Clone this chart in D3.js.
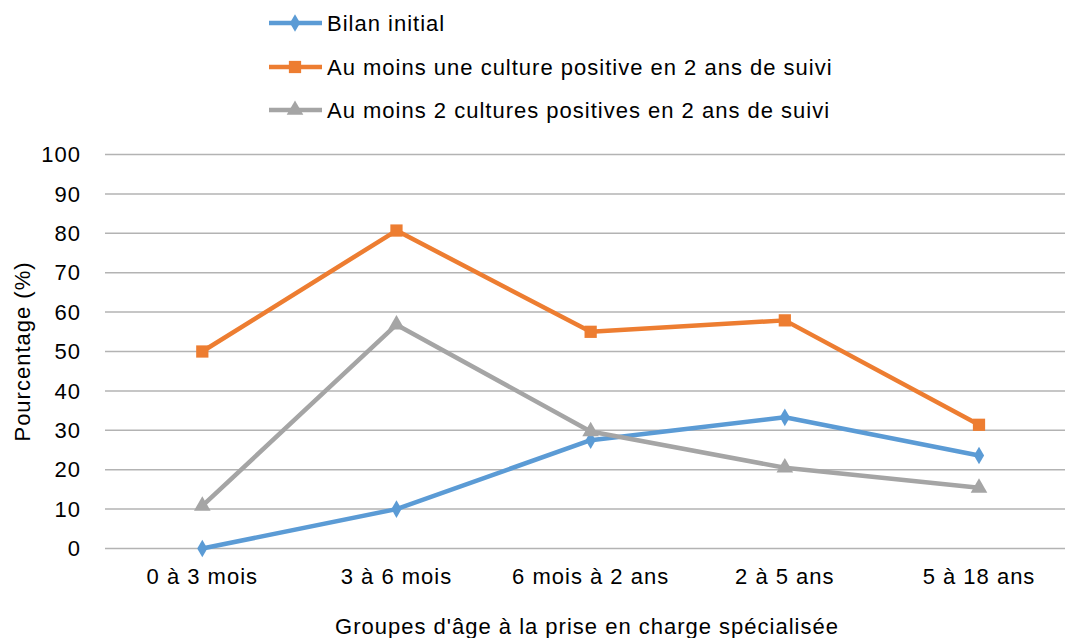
<!DOCTYPE html>
<html>
<head>
<meta charset="utf-8">
<script src="https://cdn.jsdelivr.net/npm/d3@7"></script>
<style>
  body { margin: 0; background: #fff; }
  text { font-family: "Liberation Sans", Arial, Helvetica, sans-serif; fill: #000; letter-spacing: 1px; }
</style>
</head>
<body>
<svg id="chart" width="1065" height="638"></svg>
<script>
const categories = ["0 à 3 mois", "3 à 6 mois", "6 mois à 2 ans", "2 à 5 ans", "5 à 18 ans"];
const bilanInitial = [0, 10, 27.5, 33.3, 23.6];
const uneCulture = [50, 80.7, 55, 57.9, 31.4];
const deuxCultures = [10.8, 56.8, 29.7, 20.5, 15.4];
const yTicks = [0, 10, 20, 30, 40, 50, 60, 70, 80, 90, 100];
const seriesNames = [
  "Bilan initial",
  "Au moins une culture positive en 2 ans de suivi",
  "Au moins 2 cultures positives en 2 ans de suivi"
];

const width = 1065, height = 638;
const margin = {top: 154.5, right: 0, bottom: 89.5, left: 105};
const fontSize = 22;

const svg = d3.select("#chart");

const x = d3.scalePoint()
  .domain(categories)
  .range([202.3, 979])

const y = d3.scaleLinear()
  .domain([0, 100])
  .range([height - margin.bottom, margin.top]);

// gridlines
svg.append("g")
  .selectAll("line")
  .data(yTicks)
  .join("line")
  .attr("x1", margin.left)
  .attr("x2", width)
  .attr("y1", d => y(d))
  .attr("y2", d => y(d))
  .attr("stroke", "#b3b3b3")
  .attr("stroke-width", 1.5);

// y tick labels
svg.append("g")
  .selectAll("text")
  .data(yTicks)
  .join("text")
  .attr("x", 81)
  .attr("y", d => y(d))
  .attr("dy", "0.35em")
  .attr("text-anchor", "end")
  .attr("font-size", fontSize)
  .text(d => d);

// x tick labels
svg.append("g")
  .selectAll("text")
  .data(categories)
  .join("text")
  .attr("x", d => x(d))
  .attr("y", 576.6)
  .attr("dy", "0.35em")
  .attr("text-anchor", "middle")
  .attr("font-size", fontSize)
  .text(d => d);

// axis titles
svg.append("text")
  .attr("transform", `translate(22,${(y(0) + y(100)) / 2}) rotate(-90)`)
  .attr("dy", "0.35em")
  .attr("text-anchor", "middle")
  .attr("font-size", fontSize)
  .text("Pourcentage (%)");

svg.append("text")
  .attr("x", 587)
  .attr("y", 626.3)
  .attr("dy", "0.35em")
  .attr("text-anchor", "middle")
  .attr("font-size", fontSize)
  .text("Groupes d'âge à la prise en charge spécialisée");

const series = [
  {name: seriesNames[0], values: bilanInitial, color: "#5b9bd5", symbol: d3.symbolDiamond, size: 90},
  {name: seriesNames[1], values: uneCulture, color: "#ed7d31", symbol: d3.symbolSquare, size: 150},
  {name: seriesNames[2], values: deuxCultures, color: "#a5a5a5", symbol: d3.symbolTriangle, size: 120}
];

const line = d3.line()
  .x((d, i) => x(categories[i]))
  .y(d => y(d));

series.forEach(s => {
  svg.append("path")
    .datum(s.values)
    .attr("d", line)
    .attr("fill", "none")
    .attr("stroke", s.color)
    .attr("stroke-width", 4.5)
    .attr("stroke-linejoin", "round");

  svg.append("g")
    .selectAll("path")
    .data(s.values)
    .join("path")
    .attr("transform", (d, i) => `translate(${x(categories[i])},${y(d)})`)
    .attr("d", d3.symbol().type(s.symbol).size(s.size))
    .attr("fill", s.color);
});

// legend
const legend = svg.append("g");
const legendY = [23, 67, 110];
series.forEach((s, i) => {
  const g = legend.append("g").attr("transform", `translate(0,${legendY[i]})`);
  g.append("line")
    .attr("x1", 269).attr("x2", 322)
    .attr("stroke", s.color)
    .attr("stroke-width", 4.5);
  g.append("path")
    .attr("transform", "translate(295,0)")
    .attr("d", d3.symbol().type(s.symbol).size(s.size))
    .attr("fill", s.color);
  g.append("text")
    .attr("x", 327)
    .attr("dy", "0.35em")
    .attr("font-size", fontSize)
    .text(s.name);
});
</script>
</body>
</html>
